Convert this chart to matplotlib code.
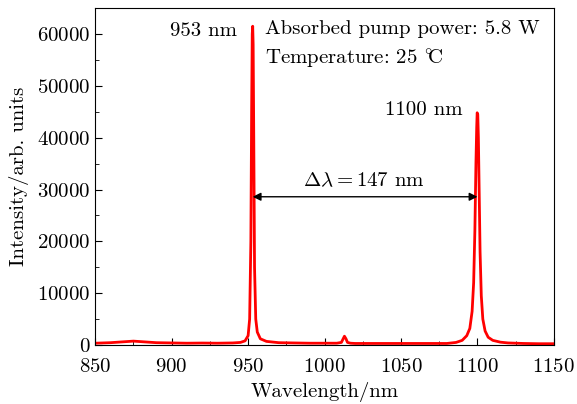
import matplotlib
matplotlib.use('Agg')
import matplotlib.pyplot as plt
from matplotlib.ticker import MultipleLocator

plt.rcParams['font.family'] = ['cmr10', 'DejaVu Serif']
plt.rcParams['mathtext.fontset'] = 'cm'
plt.rcParams['axes.unicode_minus'] = False
plt.rcParams['axes.formatter.use_mathtext'] = True

# spectrum
wavelength = [850, 860, 870, 875, 880, 890, 900, 910, 920, 930, 940, 945, 948,
              950, 951, 951.8, 952.3, 952.7, 953, 953.3, 953.7, 954.2, 955, 956,
              958, 962, 970, 980, 990, 1000, 1008, 1011, 1012, 1013, 1014, 1015,
              1017, 1020, 1030, 1040, 1050, 1060, 1070, 1080, 1086, 1090, 1093,
              1095, 1096.5, 1097.5, 1098.3, 1099, 1099.5, 1099.8, 1100.2, 1100.6,
              1101.1, 1101.7, 1102.5, 1103.5, 1105, 1107, 1110, 1115, 1120, 1130,
              1140, 1150]
intensity = [350, 450, 650, 750, 650, 450, 400, 350, 380, 350, 400, 500, 800,
             1800, 5000, 20000, 45000, 60000, 61500, 58000, 40000, 15000, 5000, 2500,
             1200, 700, 450, 400, 350, 350, 350, 500, 1100, 1700, 1200, 500,
             350, 300, 300, 300, 300, 300, 300, 300, 500, 900, 1800,
             3200, 6500, 12000, 22000, 35000, 42000, 44800, 44500, 40000,
             30000, 18000, 9500, 5000, 2700, 1500, 900, 550, 400, 300,
             250, 250]

peak_left = 953
peak_right = 1100

fig = plt.figure(figsize=(5.77, 4.04), dpi=100)
ax = fig.add_axes([0.165, 0.146, 0.795, 0.834])
ax.plot(wavelength, intensity, color='#ff0000', lw=2)

ax.set_xlim(850, 1150)
ax.set_ylim(0, 65000)
ax.xaxis.set_major_locator(MultipleLocator(50))
ax.xaxis.set_minor_locator(MultipleLocator(25))
ax.yaxis.set_major_locator(MultipleLocator(10000))
ax.yaxis.set_minor_locator(MultipleLocator(5000))
ax.tick_params(which='both', direction='in', labelsize=15)
ax.tick_params(which='major', length=5)
ax.tick_params(which='minor', length=3)
ax.tick_params(axis='x', pad=9)
ax.set_xlabel('Wavelength/nm', fontsize=15, labelpad=5)
ax.set_ylabel('Intensity/arb. units', fontsize=15, labelpad=6)

ax.annotate('', xy=(peak_left, 28600), xytext=(peak_right, 28600),
            arrowprops=dict(arrowstyle='<|-|>', color='black', lw=1,
                            shrinkA=0, shrinkB=0, mutation_scale=12))
ax.text(1026, 29800, r'$\Delta\lambda = 147$ nm', ha='center', va='bottom', fontsize=15)
ax.text(943, 60500, '953 nm', ha='right', va='center', fontsize=15)
ax.text(1090, 45300, '1100 nm', ha='right', va='center', fontsize=15)
ax.text(961, 61000, 'Absorbed pump power: 5.8 W', ha='left', va='center', fontsize=15)
ax.text(961, 55200, r'Temperature: 25 $^{\circ}\!\!$C', ha='left', va='center', fontsize=15)

fig.savefig('out.png', dpi=100)
